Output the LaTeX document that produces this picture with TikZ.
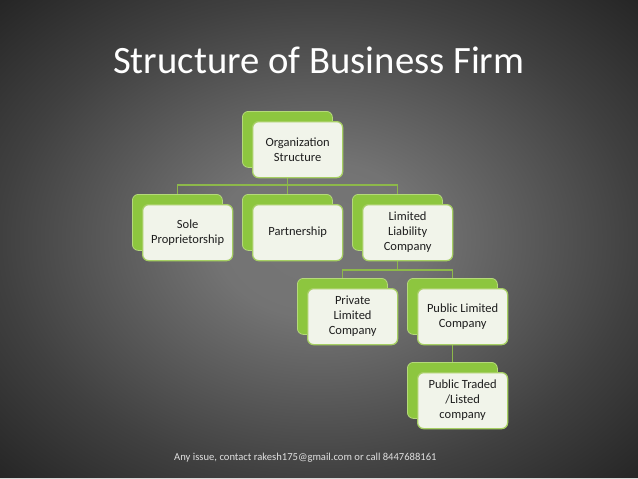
\documentclass[tikz,border=0pt]{standalone}
\usepackage{fontspec}
\setmainfont{Carlito}
\usetikzlibrary{backgrounds}
\definecolor{leaf}{HTML}{8DC63F}
\definecolor{leafline}{HTML}{B5D97A}
\definecolor{paper}{HTML}{F1F4EA}
\definecolor{paperline}{HTML}{A6CF63}
\definecolor{wire}{HTML}{8DB84A}
\definecolor{ink}{HTML}{1E1E1E}
\definecolor{bgA}{HTML}{767676}
\definecolor{bgB}{HTML}{404040}
\definecolor{bgC}{HTML}{242424}
\pgfdeclareradialshading{slidebg}{\pgfpoint{0bp}{0bp}}{%
  color(0bp)=(bgA); color(8bp)=(bgA!95!bgB); color(25bp)=(bgB); color(36bp)=(bgC); color(50bp)=(bgC)}
\tikzset{
  backbox/.style={draw=leafline, line width=0.8pt, fill=leaf, rounded corners=6pt,
    minimum width=90pt, minimum height=56pt, anchor=north west, inner sep=0pt},
  frontbox/.style={draw=paperline, line width=1.3pt, fill=paper, rounded corners=6pt,
    minimum width=90pt, minimum height=56pt, anchor=north west, inner sep=0pt,
    align=center, font=\fontsize{12.5}{15}\selectfont, text=ink},
  wireline/.style={draw=wire, line width=1.4pt}
}
\newcommand\orgbox[4]{%
  \node[backbox] (#1b) at (#2,#3) {};
  \node[frontbox] (#1f) at ({#2+10},{#3+10}) {#4};
}
\begin{document}
\begin{tikzpicture}[x=1pt,y=-1pt]
\useasboundingbox (0,0) rectangle (638,479);
\node[anchor=base west, text=white, font=\fontsize{38.7}{46}\selectfont, inner sep=0pt] (title) at (113,73) {Structure of Business Firm};
\coordinate (busA) at (0,185);
\coordinate (busB) at (0,270);
\orgbox{org}{242}{111}{Organization\\Structure}
\orgbox{sole}{132}{194}{Sole\\Proprietorship}
\orgbox{part}{242}{194}{Partnership}
\orgbox{llc}{352}{194}{Limited\\Liability\\Company}
\orgbox{priv}{297}{278}{Private\\Limited\\Company}
\orgbox{pub}{407}{278}{Public Limited\\Company}
\orgbox{trad}{407}{362}{Public Traded\\/Listed\\company}
\node[anchor=base west, text=white!88!black, font=\fontsize{10.6}{12}\selectfont, inner sep=0pt] (foot) at (174,460) {Any issue, contact rakesh175@gmail.com or call 8447688161};
\begin{scope}[on background layer]
\shade[shading=slidebg] (0,0) rectangle (638,479);
\fill[white!85!black] (0,477.5) rectangle (638,479);
\draw[wireline] (orgb.center |- orgf.south) -- (partb.north);
\draw[wireline] (soleb.north) |- (llcb.north |- busA) -- (llcb.north);
\draw[wireline] (llcb.center |- llcf.south) -- (llcb.center |- busB);
\draw[wireline] (privb.north) |- (pubb.north |- busB) -- (pubb.north);
\draw[wireline] (pubb.center |- pubf.south) -- (tradb.north);
\end{scope}
\end{tikzpicture}
\end{document}
